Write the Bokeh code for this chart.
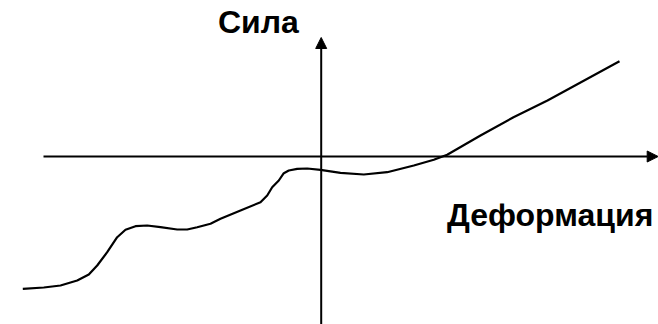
from bokeh.plotting import figure
from bokeh.models import Range1d, Arrow, NormalHead, ColumnDataSource
from bokeh.core.properties import value
from bokeh.embed import file_html
from bokeh.resources import INLINE

# Curve: deformation (x) vs force (y), arbitrary units
deformation = [-29.84, -27.74, -26.07, -24.40, -23.24, -22.40, -21.40, -20.40, -19.57, -18.57,
               -17.40, -16.07, -14.40, -13.40, -12.40, -11.07, -10.07, -8.07, -6.07, -5.40,
               -4.90, -4.24, -3.74, -3.24, -2.40, -1.40, -0.07, 1.93, 4.26, 6.60,
               9.26, 11.26, 12.60, 15.93, 19.23, 22.63, 29.83]
force = [-13.23, -13.10, -12.90, -12.40, -11.80, -10.90, -9.57, -8.07, -7.33, -6.97,
         -6.90, -7.07, -7.30, -7.30, -7.07, -6.73, -6.23, -5.40, -4.57, -3.90,
         -3.07, -2.40, -1.67, -1.40, -1.23, -1.20, -1.33, -1.63, -1.80, -1.57,
         -0.90, -0.33, 0.17, 2.10, 3.93, 5.60, 9.53]

x_axis_label = "Деформация"
y_axis_label = "Сила"

p = figure(width=658, height=324, output_backend="svg", toolbar_location=None,
           x_range=Range1d(-32.07, 33.73), y_range=Range1d(-16.8, 15.6),
           min_border=0)
p.axis.visible = False
p.grid.visible = False
p.outline_line_color = None
p.background_fill_color = "white"
p.border_fill_color = "white"

# Axes drawn as arrows
p.add_layout(Arrow(end=NormalHead(size=11, fill_color="black", line_color="black"),
                   x_start=-27.77, y_start=0, x_end=33.7, y_end=0,
                   line_width=2, line_color="black"))
p.add_layout(Arrow(end=NormalHead(size=11, fill_color="black", line_color="black"),
                   x_start=0, y_start=-17, x_end=0, y_end=11.9,
                   line_width=2, line_color="black"))

src = ColumnDataSource(dict(x=deformation, y=force))
p.line("x", "y", source=src, line_width=2.2, line_color="black", line_join="round")

p.text(x=[-10.32], y=[13.45], text=[y_axis_label], text_font=value("Liberation Sans"),
       text_font_style="bold", text_font_size="32px", text_baseline="alphabetic",
       text_color="black")
p.text(x=[12.58], y=[-5.8], text=[x_axis_label], text_font=value("Liberation Sans"),
       text_font_style="bold", text_font_size="32px", text_baseline="alphabetic",
       text_color="black")

open("out.html", "w").write(file_html(p, INLINE))
